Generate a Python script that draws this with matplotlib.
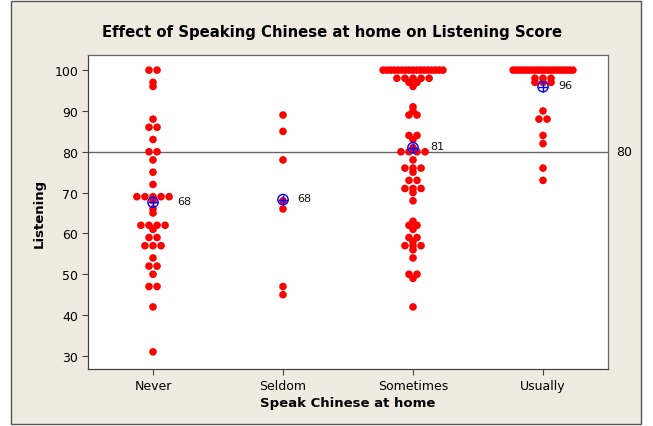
import numpy as np
import matplotlib
matplotlib.use("Agg")
import matplotlib.pyplot as plt
from matplotlib.patches import Rectangle

categories = ["Never", "Seldom", "Sometimes", "Usually"]

never = [100, 100, 97, 96, 88, 86, 86, 83, 80, 80, 78, 75, 72,
         69, 69, 69, 69, 69, 68, 66, 65, 62, 62, 62, 62, 61, 59, 59,
         57, 57, 57, 54, 52, 52, 50, 47, 47, 42, 31]
seldom = [89, 85, 78, 68, 66, 47, 45]
sometimes = [100] * 17 + [98] * 5 + [97] * 2 + [96, 91, 90, 89, 89, 84, 84, 83, 81] + \
            [80] * 4 + [78, 76, 76, 76, 75, 73, 73, 71, 71, 71, 70, 68, 63, 62, 62, 61,
                        59, 59, 58, 57, 57, 57, 56, 54, 50, 50, 49, 42]
usually = [100] * 20 + [98] * 3 + [97] * 3 + [90, 88, 88, 84, 82, 76, 73]

groups = [never, seldom, sometimes, usually]
ref_value = 80
yticks = [30, 40, 50, 60, 70, 80, 90, 100]

W, H = 653, 427
fig = plt.figure(figsize=(W / 100, H / 100), dpi=100)
fig.patch.set_facecolor("white")
bg = Rectangle((11 / W, 1 - 425 / H), 630 / W, 423 / H, transform=fig.transFigure,
               facecolor="#EFEBE1", edgecolor="#555555", linewidth=1.0, zorder=-10)
fig.patches.append(bg)

ax = fig.add_axes([88 / W, 1 - 370 / H, 520 / W, 314 / H])
ax.set_zorder(5)
ax.set_facecolor("white")
ax.set_xlim(0.5, 4.5)
ax.set_ylim(26.8, 103.7)

step = 0.062
maxw = 0.46
label_dx = [0.185, 0.11, 0.13, 0.115]
for i, vals in enumerate(groups):
    x0 = i + 1
    v = np.array(vals, dtype=float)
    uniq, counts = np.unique(v, return_counts=True)
    xs, ys = [], []
    for u, c in zip(uniq, counts):
        sp = step if c <= 1 else min(step, maxw / (c - 1))
        offs = (np.arange(c) - (c - 1) / 2) * sp
        xs.extend(x0 + offs)
        ys.extend([u] * c)
    ax.scatter(xs, ys, s=30, color="#FF0000", edgecolors="none", zorder=3)
    m = v.mean()
    ax.scatter([x0], [m], s=55, facecolors="none", edgecolors="#0000FF", linewidths=1.0, zorder=4)
    ax.scatter([x0], [m], s=55, marker="+", color="#0000FF", linewidths=1.0, zorder=4)
    ax.text(x0 + label_dx[i], m + 0.4, f"{m:.0f}", fontsize=8, va="center", ha="left",
            color="#111111", zorder=5)

ax.axhline(ref_value, color="#666666", linewidth=1.0, zorder=2)
ax.text(4.56, ref_value, f"{ref_value}", fontsize=9, va="center", ha="left", transform=ax.transData,
        clip_on=False)

ax.set_xticks(range(1, 5))
ax.set_xticklabels(categories, fontsize=9)
ax.set_yticks(yticks)
ax.set_yticklabels([str(t) for t in yticks], fontsize=9)
ax.tick_params(direction="out", length=4, color="#444444", width=0.8, pad=3)
for s in ["top", "right"]:
    ax.spines[s].set_color("#666666")
for s in ["left", "bottom"]:
    ax.spines[s].set_color("#444444")
for s in ax.spines.values():
    s.set_linewidth(0.9)

ax.set_xlabel("Speak Chinese at home", fontsize=9.5, fontweight="bold", labelpad=3)
ax.set_ylabel("Listening", fontsize=9.5, fontweight="bold", labelpad=6)
fig.text(332 / W, 1 - 32 / H, "Effect of Speaking Chinese at home on Listening Score",
         fontsize=10.7, fontweight="bold", ha="center", va="center")

fig.savefig("out.png", dpi=100, facecolor=fig.get_facecolor())
